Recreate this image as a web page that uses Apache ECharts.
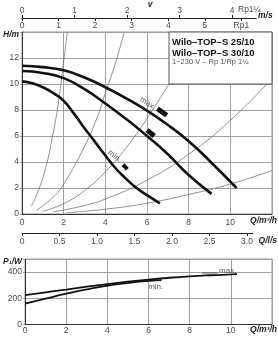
<!DOCTYPE html>
<html>
<head>
<meta charset="utf-8">
<script src="https://cdn.jsdelivr.net/npm/echarts@6/dist/echarts.min.js"></script>
<style>
html, body { margin: 0; padding: 0; background: #fff; }
#chart { width: 278px; height: 340px; }
</style>
</head>
<body>
<div id="chart"></div>
<script>
// 泵特性曲线 H(Q)，Q 单位 m³/h，H 单位 m
const pumpMax = [[0, 11.4], [1, 11.3], [2, 11.05], [3, 10.5], [4, 9.75], [5, 8.9], [6, 7.95], [7, 6.85], [8, 5.6], [9, 4.1], [10.3, 2.0]];
const pumpMid = [[0, 11.0], [1, 10.85], [2, 10.45], [3, 9.6], [4, 8.5], [5, 7.3], [6, 6.0], [7, 4.6], [8, 3.0], [9.1, 1.55]];
const pumpMin = [[0, 10.2], [0.5, 10.05], [1, 9.75], [1.5, 9.3], [2, 8.7], [2.5, 7.7], [3, 6.6], [3.5, 5.55], [4, 4.5], [4.5, 3.5], [5, 2.7], [5.5, 2.0], [6, 1.45], [6.62, 0.82]];
// 速度档位标记
const markMax = [[6.5, 8.1], [6.95, 7.6]];
const markMid = [[6.0, 6.45], [6.35, 6.0]];
const markMin = [[4.85, 3.8], [5.05, 3.44]];
// 管路特性曲线（细线）
const sys1 = [[0.45, 0.6], [1, 2.8], [1.5, 6.3], [1.8, 9.2], [2, 11.8], [2.17, 13.95]];
const sys2 = [[0.7, 0.3], [1.5, 1.3], [2, 2.3], [3, 5.2], [3.6, 7.4], [4, 9.3], [4.5, 11.7], [4.9, 13.95]];
const sys3 = [[1.0, 0.2], [2, 0.8], [3, 1.8], [4, 3.25], [5, 5.1], [6, 7.35], [7.05, 10]];
const sys4 = [[1.5, 0.16], [3, 0.65], [4, 1.15], [6, 2.6], [8, 4.6], [10, 7.2], [11.75, 10]];
const sys5 = [[2.15, 0.1], [4, 0.37], [6, 0.83], [8, 1.5], [10, 2.3], [12, 3.35]];
// 功率曲线 P1(Q)，单位 W
const powerMax = [[0, 224], [1, 246], [2, 267], [3, 289], [4, 309], [5, 327], [6, 343], [7, 357], [8, 368], [9, 376], [10, 382], [10.3, 384]];
const powerMin = [[0, 160], [1, 198], [2, 235], [3, 268], [4, 296], [5, 317], [6, 333], [6.63, 338]];
const maxLeader = [[8.6, 393], [9.35, 393]];

// 刻度标签
const qTicks = [0, 2, 4, 6, 8, 10];
const lsTicks = [0, 0.5, 1.0, 1.5, 2.0, 2.5, 3.0];
const vRp1Ticks = [0, 1, 2, 3, 4, 5, 6];
const vRp114Ticks = [0, 1, 2, 3, 4];

// 换算：1 m/s 对应的流量 (m³/h)
const qPerMsRp1 = 1.755;
const qPerMsRp114 = 2.52;
const qMax = 12;
const plotW = 250;
const vW = 234;
const lsW = 231;
const pxPerQ = plotW / qMax;

const FONT = 'Liberation Sans';
const labelStyle = { color: '#4a4a4a', fontSize: 8.5, fontFamily: FONT };
const nameStyle = { fontWeight: 'bold', fontStyle: 'italic', color: '#222', fontSize: 8.5, fontFamily: FONT, padding: [5, 0, 0, 0] };
const gridLine = { show: true, lineStyle: { color: '#a0a0a0', width: 1 } };

const myChart = echarts.init(document.getElementById('chart'), null, { renderer: 'canvas' });

function thin(data) {
    return { type: 'line', xAxisIndex: 2, yAxisIndex: 1, data: data, smooth: true, symbol: 'none',
        lineStyle: { color: '#666', width: 0.7 }, silent: true, z: 2 };
}
function thick(data, w) {
    return { type: 'line', xAxisIndex: 2, yAxisIndex: 1, data: data, smooth: true, symbol: 'none',
        lineStyle: { color: '#111', width: w }, silent: true, z: 4 };
}
function textMark(xi, yi, pt, txt, rot) {
    return { type: 'scatter', xAxisIndex: xi, yAxisIndex: yi, data: [pt], symbolSize: 0, silent: true, z: 6,
        label: { show: true, position: 'inside', formatter: txt, rotate: rot, color: '#333', fontSize: 8, fontFamily: FONT } };
}

const option = {
    animation: false,
    grid: [
        { left: 22, top: 18, width: vW, height: 0 },
        { left: 22, top: 32, width: plotW, height: 182, show: true, borderColor: '#999', borderWidth: 1 },
        { left: 22, top: 233, width: lsW, height: 0 },
        { left: 22, top: 259, width: plotW, height: 65.5, show: true, borderColor: '#999', borderWidth: 1 }
    ],
    xAxis: [
        { gridIndex: 0, type: 'value', position: 'top', min: 0, max: vW / pxPerQ / qPerMsRp114,
          axisLine: { lineStyle: { color: '#222' } }, splitLine: { show: false },
          axisTick: { length: 3, customValues: vRp114Ticks, lineStyle: { color: '#222' } },
          axisLabel: Object.assign({ margin: 3, customValues: vRp114Ticks }, labelStyle) },
        { gridIndex: 0, type: 'value', position: 'bottom', min: 0, max: vW / pxPerQ / qPerMsRp1,
          axisLine: { lineStyle: { color: '#222' } }, splitLine: { show: false },
          axisTick: { length: 3, customValues: vRp1Ticks, lineStyle: { color: '#222' } },
          axisLabel: Object.assign({ margin: 3, customValues: vRp1Ticks, formatter: v => v === 6 ? 'Rp1' : String(v) }, labelStyle) },
        { gridIndex: 1, type: 'value', min: 0, max: qMax, interval: 2,
          axisLine: { lineStyle: { color: '#333' } }, axisTick: { show: false }, splitLine: gridLine,
          axisLabel: Object.assign({ margin: 4, customValues: qTicks }, labelStyle) },
        { gridIndex: 2, type: 'value', min: 0, max: lsW / pxPerQ / 3.6,
          axisLine: { lineStyle: { color: '#222' } }, splitLine: { show: false },
          axisTick: { length: 3, customValues: lsTicks, lineStyle: { color: '#222' } },
          axisLabel: Object.assign({ margin: 4, customValues: lsTicks, formatter: v => v === 0 ? '0' : v.toFixed(1) }, labelStyle) },
        { gridIndex: 3, type: 'value', min: 0, max: qMax, interval: 2,
          axisLine: { lineStyle: { color: '#333' } }, axisTick: { show: false }, splitLine: gridLine,
          axisLabel: Object.assign({ margin: 2, customValues: qTicks }, labelStyle) }
    ],
    yAxis: [
        { gridIndex: 0, type: 'value', show: false, min: 0, max: 1 },
        { gridIndex: 1, type: 'value', min: 0, max: 14, interval: 2,
          axisLine: { show: true, lineStyle: { color: '#333' } }, axisTick: { show: true, length: 2, lineStyle: { color: '#999' } },
          splitLine: gridLine,
          axisLabel: Object.assign({ margin: 3, formatter: v => v === 14 ? '{n|H/m}' : String(v), rich: { n: nameStyle } }, labelStyle) },
        { gridIndex: 2, type: 'value', show: false, min: 0, max: 1 },
        { gridIndex: 3, type: 'value', min: 0, max: 500, interval: 200,
          axisLine: { show: true, lineStyle: { color: '#333' } }, axisTick: { show: true, length: 2, lineStyle: { color: '#999' } },
          splitLine: gridLine,
          axisLabel: Object.assign({ margin: 3, formatter: v => v === 500 ? '{n|P₁/W}' : String(v), rich: { n: nameStyle } }, labelStyle) }
    ],
    series: [
        thin(sys1), thin(sys2), thin(sys3), thin(sys4), thin(sys5),
        thick(pumpMax, 2.6), thick(pumpMid, 2.6), thick(pumpMin, 2.6),
        { type: 'line', xAxisIndex: 2, yAxisIndex: 1, data: markMax, symbol: 'none', lineStyle: { color: '#111', width: 5, cap: 'butt' }, z: 5 },
        { type: 'line', xAxisIndex: 2, yAxisIndex: 1, data: markMid, symbol: 'none', lineStyle: { color: '#111', width: 5, cap: 'butt' }, z: 5 },
        { type: 'line', xAxisIndex: 2, yAxisIndex: 1, data: markMin, symbol: 'none', lineStyle: { color: '#111', width: 4, cap: 'butt' }, z: 5 },
        textMark(2, 1, [6.05, 8.5], 'max.', -33),
        textMark(2, 1, [4.45, 4.45], 'min.', -38),
        { type: 'line', xAxisIndex: 4, yAxisIndex: 3, data: powerMax, smooth: true, symbol: 'none', lineStyle: { color: '#111', width: 1.8 } },
        { type: 'line', xAxisIndex: 4, yAxisIndex: 3, data: powerMin, smooth: true, symbol: 'none', lineStyle: { color: '#111', width: 1.8 } },
        { type: 'line', xAxisIndex: 4, yAxisIndex: 3, data: maxLeader, symbol: 'none', lineStyle: { color: '#444', width: 0.8 } },
        textMark(4, 3, [9.85, 412], 'max.', 0),
        textMark(4, 3, [6.35, 290], 'min.', 0)
    ],
    graphic: [
        { type: 'rect', shape: { x: 169, y: 32, width: 103, height: 52 }, style: { fill: '#fff', stroke: '#555', lineWidth: 1 }, z: 10 },
        { type: 'text', x: 172, y: 42, z: 11, style: { text: 'Wilo–TOP–S 25/10', fontWeight: 'bold', fontSize: 9.5, fontFamily: FONT, fill: '#111', verticalAlign: 'middle' } },
        { type: 'text', x: 172, y: 53, z: 11, style: { text: 'Wilo–TOP–S 30/10', fontWeight: 'bold', fontSize: 9.5, fontFamily: FONT, fill: '#111', verticalAlign: 'middle' } },
        { type: 'text', x: 172, y: 62, z: 11, style: { text: '1~230 V – Rp 1/Rp 1¼', fontSize: 7.5, fontFamily: FONT, fill: '#555', verticalAlign: 'middle' } },
        { type: 'text', x: 150, y: 5, style: { text: 'v', fontStyle: 'italic', fontWeight: 'bold', fontSize: 8.5, fontFamily: FONT, fill: '#222', align: 'center', verticalAlign: 'middle' } },
        { type: 'text', x: 238, y: 10, style: { text: 'Rp1¼', fontSize: 8.5, fontFamily: FONT, fill: '#4a4a4a', verticalAlign: 'middle' } },
        { type: 'text', x: 258, y: 16, style: { text: 'm/s', fontStyle: 'italic', fontWeight: 'bold', fontSize: 8.5, fontFamily: FONT, fill: '#222', verticalAlign: 'middle' } },
        { type: 'text', x: 277, y: 241, style: { text: 'Q/l/s', fontStyle: 'italic', fontWeight: 'bold', fontSize: 8.5, fontFamily: FONT, fill: '#222', align: 'right', verticalAlign: 'middle' } },
        { type: 'text', x: 277, y: 221, style: { text: 'Q/m³/h', fontStyle: 'italic', fontWeight: 'bold', fontSize: 8.5, fontFamily: FONT, fill: '#222', align: 'right', verticalAlign: 'middle' } },
        { type: 'text', x: 277, y: 330, style: { text: 'Q/m³/h', fontStyle: 'italic', fontWeight: 'bold', fontSize: 8.5, fontFamily: FONT, fill: '#222', align: 'right', verticalAlign: 'middle' } }
    ]
};

myChart.setOption(option);
</script>
</body>
</html>
